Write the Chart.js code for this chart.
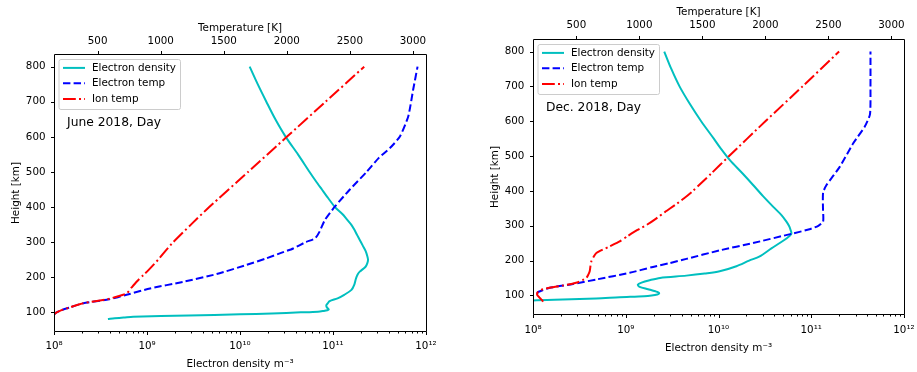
<!DOCTYPE html>
<html><head><meta charset="utf-8">
<script src="https://cdn.jsdelivr.net/npm/chart.js@4/dist/chart.umd.min.js"></script>
<style>
html,body{margin:0;padding:0;background:#fff;}
#wrap{position:relative;width:917px;height:372px;overflow:hidden;background:#fff;}
canvas{position:absolute;top:0;}
#c1{left:0;} #c2{left:458px;}
</style></head><body>
<div id="wrap"><canvas id="c1" width="458" height="372"></canvas><canvas id="c2" width="459" height="372"></canvas></div>
<script>
// ---- tick labels / categories ----
const heightTicks = [100, 200, 300, 400, 500, 600, 700, 800];
const temperatureTicks = [500, 1000, 1500, 2000, 2500, 3000];
const densityTicks = [1e8, 1e9, 1e10, 1e11, 1e12];
const legendLabels = ['Electron density', 'Electron temp', 'Ion temp'];
const panelTitles = ['June 2018, Day', 'Dec. 2018, Day'];

// ---- June 2018 ----
const juneNeHeight = [81, 83, 85, 87.5, 91, 94.3, 97, 100, 102, 104, 106, 108, 111, 116, 121, 126, 132, 140, 150, 164, 180, 195, 204, 210, 216, 230, 240, 250, 260, 275, 290, 306, 320, 335, 350, 365, 380, 400, 425, 450, 475, 500, 550, 600, 650, 700, 750, 800];
const juneNe = [3.8e8, 4.5e8, 5.6e8, 7.1e8, 2.8e9, 1.0e10, 2.2e10, 4.5e10, 6.9e10, 7.9e10, 8.7e10, 9.0e10, 8.8e10, 8.5e10, 8.5e10, 8.8e10, 9.2e10, 1.12e11, 1.32e11, 1.58e11, 1.70e11, 1.76e11, 1.81e11, 1.86e11, 1.94e11, 2.24e11, 2.34e11, 2.38e11, 2.34e11, 2.24e11, 2.09e11, 1.94e11, 1.82e11, 1.70e11, 1.57e11, 1.41e11, 1.26e11, 1.05e11, 8.9e10, 7.6e10, 6.5e10, 5.6e10, 4.2e10, 3.1e10, 2.4e10, 1.92e10, 1.55e10, 1.27e10];
const juneTeHeight = [90, 97, 105, 114, 126, 137, 150, 168, 187, 209, 235, 254, 270, 282, 300, 311, 330, 363, 401, 450, 500, 540, 568, 601, 658, 734, 800];
const juneTe = [150, 162, 205, 280, 386, 590, 730, 915, 1179, 1444, 1680, 1840, 1960, 2051, 2150, 2225, 2260, 2302, 2381, 2500, 2633, 2730, 2818, 2897, 2963, 3002, 3037];
const juneTiHeight = [80, 88, 97, 105, 114, 126, 137, 144.5, 154, 171, 187, 206, 221, 250, 278, 300, 350, 400, 500, 600, 700, 800];
const juneTi = [140, 148, 162, 205, 280, 386, 575, 651, 730, 770, 809, 862, 905, 980, 1045, 1100, 1240, 1385, 1693, 2000, 2308, 2614];

// ---- Dec. 2018 ----
const decNeHeight = [80, 85.7, 88.6, 91.4, 95, 98, 100, 103, 106, 109, 112, 118, 124.8, 131, 137, 143.8, 150.5, 157, 163, 169.5, 184, 200, 212, 235, 250.5, 265, 277, 290, 300, 312, 330, 355, 385, 417, 450, 489, 520, 550, 600, 650, 700, 750, 800];
const decNe = [7.9e7, 1.0e8, 2.1e8, 4.8e8, 8.6e8, 1.58e9, 1.9e9, 2.19e9, 2.29e9, 2.24e9, 2.09e9, 1.74e9, 1.41e9, 1.35e9, 1.48e9, 1.81e9, 2.34e9, 4.5e9, 7.1e9, 1.03e10, 1.56e10, 2.14e10, 2.78e10, 3.72e10, 4.57e10, 5.5e10, 6.1e10, 5.95e10, 5.75e10, 5.4e10, 4.8e10, 3.87e10, 3.02e10, 2.36e10, 1.82e10, 1.32e10, 1.07e10, 8.9e9, 6.5e9, 4.9e9, 3.8e9, 3.1e9, 2.6e9];
const decTeHeight = [105, 110, 122, 133, 146, 165, 182, 193, 205, 229.5, 250.5, 277, 290, 300, 312, 350, 395, 417, 469, 536, 584, 620, 700, 800];
const decTe = [190, 196, 288, 473, 659, 923, 1108, 1241, 1373, 1638, 1902, 2207, 2350, 2420, 2458, 2457, 2458, 2485, 2590, 2696, 2788, 2830, 2834, 2834];
const decTiHeight = [82, 86, 90, 95, 100, 105, 110, 116, 122, 128.6, 133, 138, 144, 150.5, 160, 169.5, 185, 198, 210, 222, 240, 255, 270, 288, 303, 320, 340, 360, 379, 400, 450, 500, 600, 700, 800];
const decTi = [235, 230, 218, 205, 192, 188, 195, 220, 288, 394, 460, 513, 550, 580, 595, 606, 612, 619, 635, 659, 760, 844, 905, 985, 1060, 1130, 1205, 1285, 1355, 1425, 1570, 1712, 2000, 2295, 2585];

// ---- helpers ----
const SUP = {'0':'⁰','1':'¹','2':'²','3':'³','4':'⁴','5':'⁵','6':'⁶','7':'⁷','8':'⁸','9':'⁹','-':'⁻'};
function decadeLabel(v) {
  const e = Math.round(Math.log10(v));
  return '10' + String(e).split('').map(c => SUP[c]).join('');
}
function zip(heights, values) { return heights.map((h, i) => ({x: values[i], y: h})); }

const FAM = '"DejaVu Sans", sans-serif';
Chart.defaults.font.family = FAM;
Chart.defaults.font.size = 10;
Chart.defaults.color = '#000';
const tickFont = { size: 10.3 };
const titleFont = { size: 10.4 };

const decor = {
  id: 'decor',
  afterDraw(chart, args, opts) {
    const {ctx, chartArea: ca, scales} = chart;
    ctx.save();
    ctx.setLineDash([]);
    ctx.strokeStyle = '#000';
    ctx.lineWidth = 1;
    const L = Math.round(ca.left) + 0.5, R = Math.round(ca.right) + 0.5;
    const T = Math.round(ca.top) + 0.5, B = Math.round(ca.bottom) - 0.5;
    ctx.beginPath();
    ctx.moveTo(L, T); ctx.lineTo(R, T); ctx.lineTo(R, B); ctx.lineTo(L, B); ctx.closePath();
    ctx.stroke();
    ctx.beginPath();
    heightTicks.forEach(v => { const p = Math.round(scales.y.getPixelForValue(v)) + 0.5; ctx.moveTo(L, p); ctx.lineTo(L - 3.5, p); });
    temperatureTicks.forEach(v => { const p = Math.round(scales.x2.getPixelForValue(v)) + 0.5; ctx.moveTo(p, T); ctx.lineTo(p, T - 3.5); });
    densityTicks.forEach((v, i) => {
      const p = Math.round(scales.x.getPixelForValue(v)) + 0.5; ctx.moveTo(p, B); ctx.lineTo(p, B + 3.5);
      if (i < densityTicks.length - 1) {
        for (let m = 2; m <= 9; m++) {
          const q = Math.round(scales.x.getPixelForValue(v * m)) + 0.5; ctx.moveTo(q, B); ctx.lineTo(q, B + 2);
        }
      }
    });
    ctx.stroke();

    // legend
    const bx = ca.left + 5, by = ca.top + 5.5, bw = 121.5, bh = 50, r = 2;
    ctx.beginPath();
    ctx.moveTo(bx + r, by); ctx.lineTo(bx + bw - r, by); ctx.quadraticCurveTo(bx + bw, by, bx + bw, by + r);
    ctx.lineTo(bx + bw, by + bh - r); ctx.quadraticCurveTo(bx + bw, by + bh, bx + bw - r, by + bh);
    ctx.lineTo(bx + r, by + bh); ctx.quadraticCurveTo(bx, by + bh, bx, by + bh - r);
    ctx.lineTo(bx, by + r); ctx.quadraticCurveTo(bx, by, bx + r, by);
    ctx.fillStyle = 'rgba(255,255,255,0.8)'; ctx.fill();
    ctx.strokeStyle = '#cccccc'; ctx.lineWidth = 1; ctx.stroke();
    const rows = [13.9, 29.2, 45];
    ctx.font = '10.4px ' + FAM;
    ctx.textBaseline = 'middle'; ctx.textAlign = 'left';
    chart.data.datasets.forEach((ds, i) => {
      const yy = ca.top + rows[i];
      ctx.beginPath();
      ctx.strokeStyle = ds.borderColor; ctx.lineWidth = ds.borderWidth;
      ctx.setLineDash(ds.borderDash || []);
      ctx.moveTo(ca.left + 9, yy); ctx.lineTo(ca.left + 31, yy); ctx.stroke();
      ctx.setLineDash([]);
      ctx.fillStyle = '#000';
      ctx.fillText(ds.label, ca.left + 38, yy);
    });
    // panel annotation
    ctx.font = '12.3px ' + FAM;
    ctx.fillStyle = '#000';
    ctx.fillText(opts.title, ca.left + 13, ca.top + 69);
    ctx.restore();
  }
};

function makeChart(id, p) {
  return new Chart(document.getElementById(id), {
    type: 'scatter',
    data: { datasets: [
      { label: legendLabels[0], data: zip(p.neH, p.ne), xAxisID: 'x', yAxisID: 'y', borderColor: '#00bfbf', backgroundColor: '#00bfbf', borderWidth: 2, showLine: true, pointRadius: 0, tension: 0.3, order: 2 },
      { label: legendLabels[1], data: zip(p.teH, p.te), xAxisID: 'x2', yAxisID: 'y', borderColor: '#0000ff', backgroundColor: '#0000ff', borderWidth: 2, borderDash: [7.4, 3.2], showLine: true, pointRadius: 0, tension: 0.2, order: 1 },
      { label: legendLabels[2], data: zip(p.tiH, p.ti), xAxisID: 'x2', yAxisID: 'y', borderColor: '#ff0000', backgroundColor: '#ff0000', borderWidth: 2, borderDash: [12.8, 3.2, 2, 3.2], showLine: true, pointRadius: 0, tension: 0.2, order: 0 }
    ]},
    options: {
      responsive: false, animation: false, devicePixelRatio: 1,
      events: [],
      layout: { padding: { left: 0, right: p.padRight, top: 0, bottom: 0 } },
      plugins: { legend: { display: false }, tooltip: { enabled: false }, decor: { title: p.title } },
      scales: {
        x: {
          type: 'logarithmic', position: 'bottom', min: 1e8, max: 1e12, bounds: 'data',
          grid: { display: false, drawTicks: false }, border: { display: false },
          ticks: { autoSkip: false, maxRotation: 0, padding: p.xTickPad, color: '#000', font: tickFont, callback: v => decadeLabel(v) },
          afterBuildTicks: s => { s.ticks = densityTicks.map(v => ({ value: v })); },
          afterFit: s => { s.height = p.bottomH; s.paddingLeft = 0; s.paddingRight = 0; },
          title: { display: true, text: 'Electron density m⁻³', color: '#000', font: titleFont, padding: { top: 0, bottom: p.xTitlePad } }
        },
        x2: {
          type: 'linear', position: 'top', min: p.tMin, max: p.tMax, bounds: 'data',
          grid: { display: false, drawTicks: false }, border: { display: false },
          ticks: { autoSkip: false, maxRotation: 0, padding: p.x2TickPad, color: '#000', font: tickFont, callback: v => String(v) },
          afterBuildTicks: s => { s.ticks = temperatureTicks.map(v => ({ value: v })); },
          afterFit: s => { s.height = p.topH; s.paddingLeft = 0; s.paddingRight = 0; },
          title: { display: true, text: 'Temperature [K]', color: '#000', font: titleFont, padding: { top: p.x2TitlePad, bottom: 0 } }
        },
        y: {
          type: 'linear', position: 'left', min: 44, max: 836, bounds: 'data',
          grid: { display: false, drawTicks: false }, border: { display: false },
          ticks: { autoSkip: false, padding: p.yTickPad, color: '#000', font: tickFont, callback: v => String(v) },
          afterBuildTicks: s => { s.ticks = heightTicks.map(v => ({ value: v })); },
          afterFit: s => { s.width = p.leftW; s.paddingTop = 0; s.paddingBottom = 0; },
          title: { display: true, text: 'Height [km]', color: '#000', font: titleFont, padding: { top: p.yTitlePad, bottom: 0 } }
        }
      }
    },
    plugins: [decor]
  });
}

makeChart('c1', {
  neH: juneNeHeight, ne: juneNe, teH: juneTeHeight, te: juneTe, tiH: juneTiHeight, ti: juneTi,
  title: panelTitles[0], tMin: 154, tMax: 3104,
  leftW: 54, padRight: 32, topH: 54, bottomH: 40,
  yTitlePad: 9.7, x2TitlePad: 22, xTitlePad: 1.8, xTickPad: 8.3, x2TickPad: 6.8, yTickPad: 8.5
});
makeChart('c2', {
  neH: decNeHeight, ne: decNe, teH: decTeHeight, te: decTe, tiH: decTiHeight, ti: decTi,
  title: panelTitles[1], tMin: 156, tMax: 3100,
  leftW: 75, padRight: 13, topH: 39, bottomH: 57,
  yTitlePad: 30.7, x2TitlePad: 6, xTitlePad: 17.5, xTickPad: 9.3, x2TickPad: 7.8, yTickPad: 8.7
});
</script>
</body></html>
